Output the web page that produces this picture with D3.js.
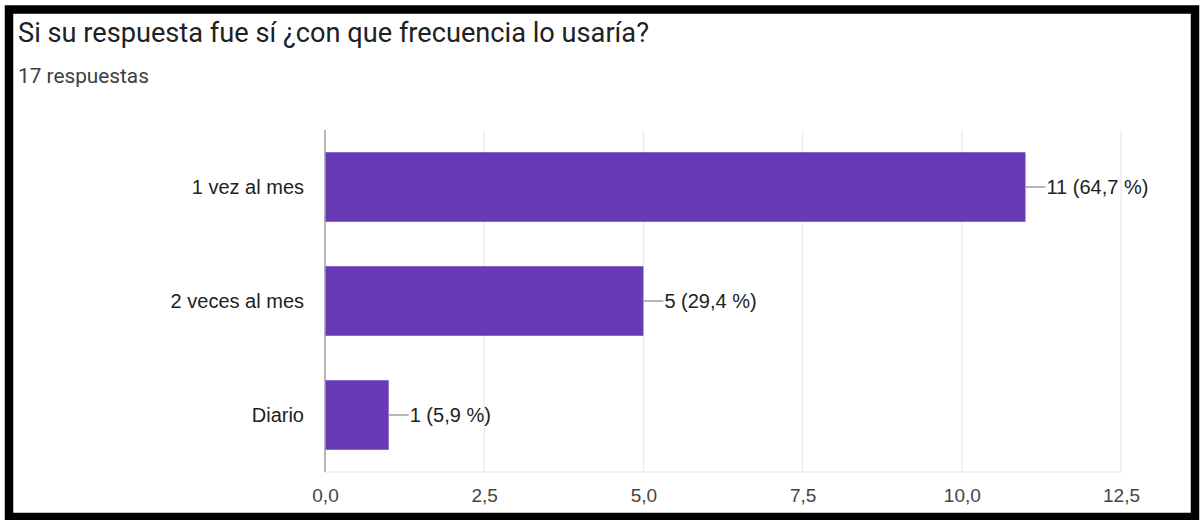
<!DOCTYPE html>
<html>
<head>
<meta charset="utf-8">
<script src="https://cdn.jsdelivr.net/npm/d3@7"></script>
<style>
  html, body { margin: 0; padding: 0; background: #fff; }
  svg { display: block; }
</style>
</head>
<body>
<svg id="chart" width="1200" height="520"></svg>
<script>
// Survey answers: how often the respondent would use it
const categories = ["1 vez al mes", "2 veces al mes", "Diario"];
const counts = [11, 5, 1];
const percents = ["64,7", "29,4", "5,9"];
const xTicks = [0, 2.5, 5, 7.5, 10, 12.5];
const title = "Si su respuesta fue sí ¿con que frecuencia lo usaría?";
const subtitle = "17 respuestas";

const svg = d3.select("#chart");
const W = 1200, H = 520;

// Black frame around the card
svg.append("rect").attr("x", 0).attr("y", 0).attr("width", W).attr("height", H).attr("fill", "#fff");
svg.append("rect")
  .attr("x", 9).attr("y", 9.5)
  .attr("width", 1186).attr("height", 507.5)
  .attr("fill", "#fff")
  .attr("stroke", "#000").attr("stroke-width", 8.5);

svg.append("text")
  .attr("x", 18).attr("y", 42)
  .attr("font-family", "Roboto, 'Noto Sans', sans-serif")
  .attr("font-size", 27.2)
  .attr("fill", "#202124")
  .text(title);

svg.append("text")
  .attr("x", 18).attr("y", 83)
  .attr("font-family", "Roboto, 'Noto Sans', sans-serif")
  .attr("font-size", 20.8)
  .attr("fill", "#3c4043")
  .text(subtitle);

const plot = { left: 325, right: 1121, top: 130, bottom: 472 };

const x = d3.scaleLinear().domain([0, 12.5]).range([plot.left, plot.right]);
const y = d3.scaleBand().domain(categories).range([plot.top, plot.bottom]).paddingInner(0.39).paddingOuter(0.195);

const fmt = d => d3.format(".1f")(d).replace(".", ",");
const font = "Arial, 'Liberation Sans', sans-serif";

// Vertical gridlines
svg.append("g").selectAll("line")
  .data(xTicks.slice(1))
  .join("line")
  .attr("x1", d => x(d)).attr("x2", d => x(d))
  .attr("y1", plot.top).attr("y2", plot.bottom)
  .attr("stroke", "#ebebeb").attr("stroke-width", 1.3);

// Bottom baseline
svg.append("line")
  .attr("x1", plot.left).attr("x2", plot.right)
  .attr("y1", plot.bottom).attr("y2", plot.bottom)
  .attr("stroke", "#ebebeb").attr("stroke-width", 1.3);

// Bars
svg.append("g").selectAll("rect")
  .data(categories)
  .join("rect")
  .attr("x", x(0))
  .attr("y", d => y(d))
  .attr("width", (d, i) => x(counts[i]) - x(0))
  .attr("height", y.bandwidth())
  .attr("fill", "#673ab7");

// Zero axis line
svg.append("line")
  .attr("x1", x(0)).attr("x2", x(0))
  .attr("y1", plot.top).attr("y2", plot.bottom)
  .attr("stroke", "#9e9e9e").attr("stroke-width", 1.5);

// X axis tick labels
const xAxis = d3.axisBottom(x).tickValues(xTicks).tickFormat(fmt).tickSize(0).tickPadding(0);
const gx = svg.append("g").attr("transform", `translate(0,${plot.bottom})`).call(xAxis);
gx.select(".domain").remove();
gx.selectAll("text")
  .attr("dy", null)
  .attr("y", 30)
  .attr("font-family", font)
  .attr("font-size", 19)
  .attr("fill", "#444");

// Category labels
const yAxis = d3.axisLeft(y).tickSize(0).tickPadding(0);
const gy = svg.append("g").attr("transform", `translate(${plot.left - 21},0)`).call(yAxis);
gy.select(".domain").remove();
gy.selectAll("text")
  .attr("dy", "0.35em")
  .attr("font-family", font)
  .attr("font-size", 20)
  .attr("fill", "#222");

// Value annotations with leader lines
const ann = svg.append("g").selectAll("g")
  .data(categories)
  .join("g")
  .attr("transform", (d, i) => `translate(${x(counts[i])},${y(d) + y.bandwidth() / 2})`);
ann.append("line")
  .attr("x1", 0).attr("x2", 20)
  .attr("y1", 0).attr("y2", 0)
  .attr("stroke", "#9e9e9e").attr("stroke-width", 1.5);
ann.append("text")
  .attr("x", 21).attr("dy", "0.35em")
  .attr("font-family", font)
  .attr("font-size", 20)
  .attr("fill", "#222")
  .text((d, i) => `${counts[i]} (${percents[i]} %)`);
</script>
</body>
</html>
